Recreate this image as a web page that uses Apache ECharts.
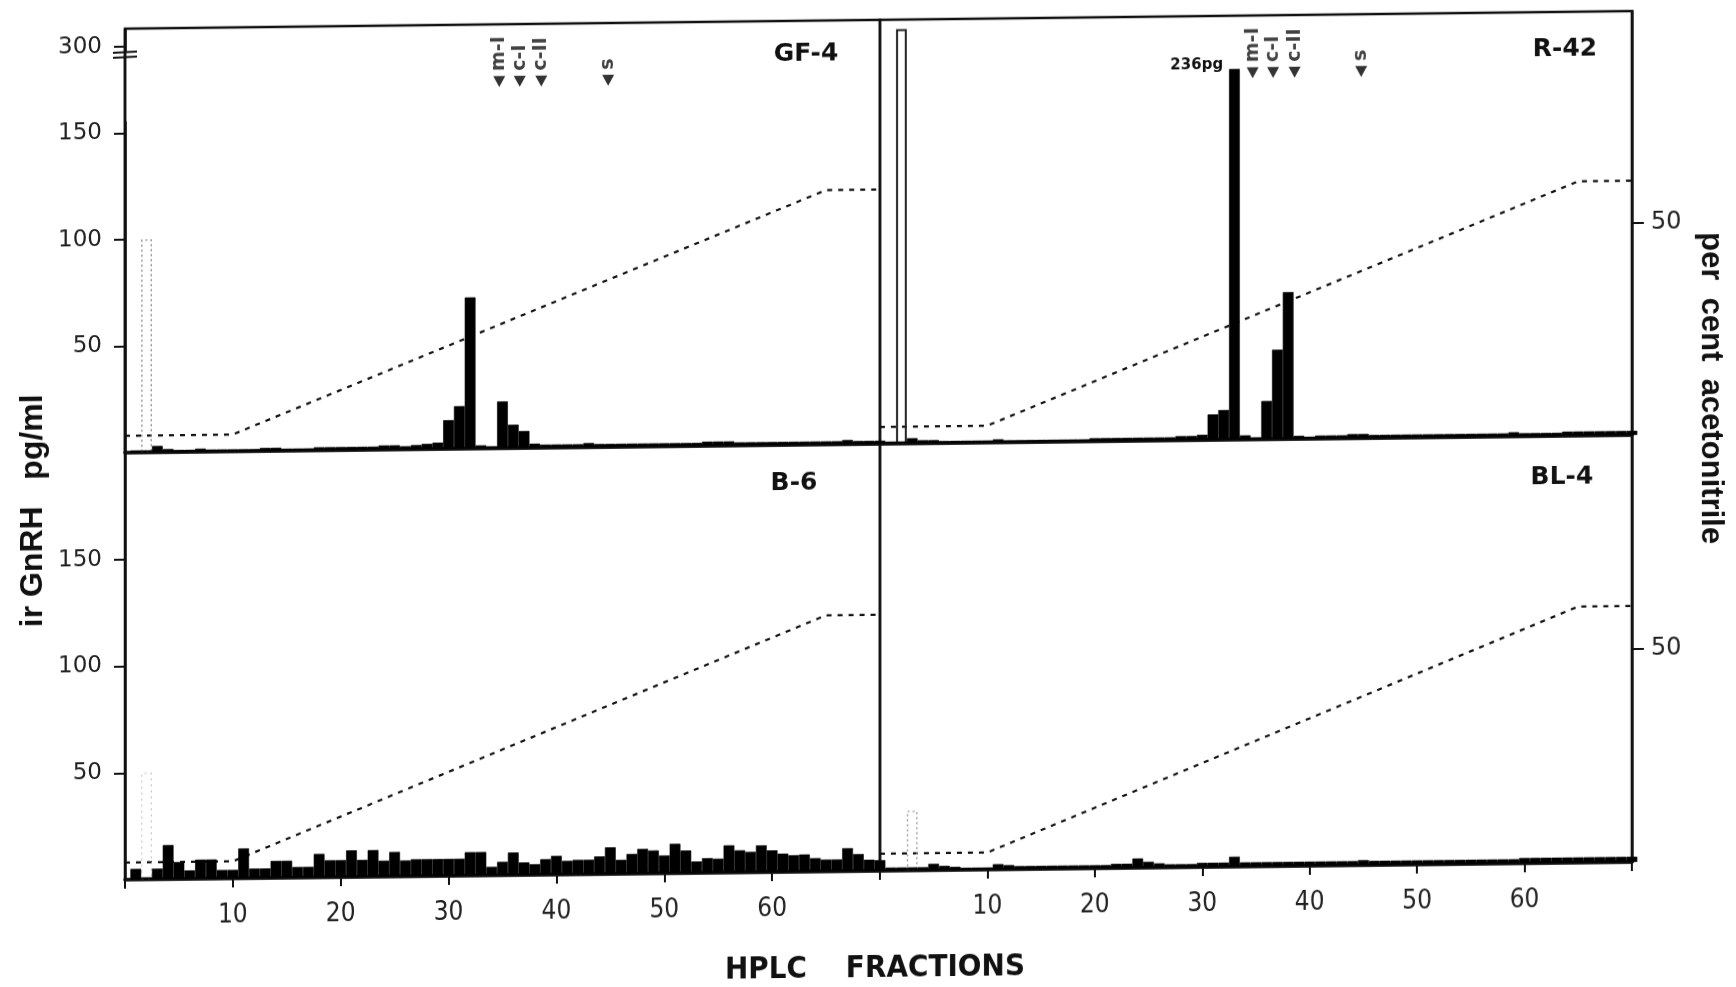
<!DOCTYPE html>
<html>
<head>
<meta charset="utf-8">
<title>ir GnRH in HPLC fractions</title>
<script src="https://cdn.jsdelivr.net/npm/echarts@6/dist/echarts.min.js"></script>
<style>
  html, body { margin: 0; padding: 0; background: #fff; overflow: hidden; }
  /* the whole figure runs slightly uphill to the right */
  #chart { width: 1736px; height: 987px; transform: skewY(-0.67deg); transform-origin: 868px 493px; }
</style>
</head>
<body>
<div id="chart"></div>
<script>
// HPLC fraction numbers (x positions of the histogram bars)
const fractions = Array.from({ length: 70 }, (_, i) => i + 1);

// ir GnRH (pg/ml) per fraction
const gf4 = [1, 1, 3, 1.5, 1, 1, 1.5, 1, 1, 1,
  1, 1, 1.5, 1.5, 1, 1, 1, 1.5, 1.5, 1.5,
  1.5, 1.5, 1.5, 2, 2, 1.5, 2, 2.5, 3, 13.5,
  20, 71, 1.5, 1, 22, 11, 8, 2, 1.5, 1.5,
  1.5, 1.5, 2, 1.5, 1.5, 1.5, 1.5, 1.5, 1.5, 1.5,
  1.5, 1.5, 1.5, 2, 2, 2, 1.5, 1.5, 1.5, 1.5,
  1.5, 1.5, 1.5, 1.5, 1.5, 1.5, 2, 1.5, 1.5, 1.5];

const r42 = [1, 1, 2.5, 1.5, 1.5, 1, 1, 1, 1, 1,
  1.5, 1, 1, 1, 1, 1, 1, 1, 1, 1.5,
  1.5, 1.5, 1.5, 1.5, 1.5, 1.5, 1.5, 2, 2, 2.5,
  12, 14, 236, 2, 1, 18, 42, 69, 1.5, 1,
  1.5, 1.5, 1.5, 2, 2, 1.5, 1.5, 1.5, 1.5, 1.5,
  1.5, 1.5, 1.5, 1.5, 1.5, 1.5, 1.5, 1.5, 2, 1.5,
  1.5, 1.5, 1.5, 2, 2, 2, 2, 2, 2, 2];

const b6 = [5, 1, 5, 16, 8, 4, 9, 9, 4, 4,
  14, 4.5, 4.5, 8, 8, 5, 5, 11, 8, 8,
  12.5, 8, 12.5, 7.5, 11.5, 7.5, 8, 8, 8, 8,
  8, 11, 11, 4, 6.3, 10.6, 5.9, 5, 7.3, 8.8,
  6.4, 6.8, 6.8, 8.3, 12.5, 6.6, 9.3, 11.6, 10.8, 8.4,
  13.8, 10.6, 5.4, 6.9, 6.6, 12.8, 10.4, 9.6, 12.6, 10.2,
  8.6, 7.8, 8.1, 6.3, 5.6, 5.6, 10.8, 8, 5.3, 5];

const bl4 = [1.5, 1.5, 1.5, 1.5, 3, 2, 1.5, 1, 1, 1,
  2.5, 2, 1.5, 1.5, 1.5, 1.5, 1.5, 1.5, 1.5, 1.5,
  1.5, 2, 2, 4.4, 2.8, 2, 1.5, 1.5, 1.5, 2,
  2, 2, 4.7, 2, 2, 2, 2, 2, 2, 2,
  2, 2, 2, 2, 2.4, 2, 2, 2, 2, 2,
  2, 2, 2, 2, 2, 2, 2, 2, 2, 2.5,
  2.5, 2.5, 2.5, 2.5, 2.5, 2.5, 2.5, 2.5, 2.5, 2.5];

// off-scale void-volume fraction drawn as an open bar (GF-4, R-42, B-6, BL-4)
const openFractions = [2, 2, 2, 3];
const openValues = [100, 304, 50, 28];

// acetonitrile gradient (per cent) against fraction number
const gradientFractions = [0, 10, 65, 70];
const gradientPercent = [4, 4, 60, 60];

// elution positions of the reference peptides
const markerFractions = [34.7, 36.6, 38.6, 44.8];
const markerNames = ['m-I', 'c-I', 'c-II', 's'];

// tick labels
const pgTicksTop = [50, 100, 150, 300];
const pgTicksBottom = [50, 100, 150];
const fractionTicks = [10, 20, 30, 40, 50, 60];
const percentTicks = [50];

const panelNames = ['GF-4', 'R-42', 'B-6', 'BL-4'];
const panelValues = [gf4, r42, b6, bl4];

const INK = '#111';
const tickFont = 'DejaVu Sans, Liberation Sans, sans-serif';
const narrowFont = 'DejaVu Sans Condensed, Liberation Sans Narrow, DejaVu Sans, sans-serif';
const boldFont = 'Liberation Sans, Arial, sans-serif';

const chart = echarts.init(document.getElementById('chart'), null, { renderer: 'canvas' });

const grids = [
  { left: 125, top: 20, width: 755, height: 424 },
  { left: 880, top: 20, width: 752, height: 424 },
  { left: 125, top: 444, width: 755, height: 427 },
  { left: 880, top: 444, width: 752, height: 427 }
].map(g => Object.assign(g, { show: true, borderColor: INK, borderWidth: 2.5, backgroundColor: 'transparent' }));

const xAxes = grids.map((g, i) => ({
  type: 'value', gridIndex: i, min: 0, max: 70, interval: 10,
  axisLine: { show: true, onZero: false, lineStyle: { color: INK, width: 3.5 } },
  axisTick: { show: i >= 2, length: 9, lineStyle: { color: INK, width: 2 } },
  axisLabel: {
    show: i >= 2, margin: 24, fontSize: 26, color: '#222', fontFamily: narrowFont,
    formatter: v => (fractionTicks.indexOf(v) >= 0 ? String(v) : '')
  },
  splitLine: { show: false }
}));

// the upper panels jump from 155 straight to 298 pg/ml
const pgBreak = [{ start: 155, end: 298, gap: 33.5 }];

const yAxes = [];
// pg/ml axes
[0, 1, 2, 3].forEach(i => {
  const top = i < 2;
  const ax = {
    type: 'value', gridIndex: i, position: 'left',
    min: 0, max: top ? 308.5 : 200,
    show: i % 2 === 0,
    axisLine: { show: true, lineStyle: { color: INK, width: 2.5 } },
    axisTick: { show: true, length: 11, lineStyle: { color: INK, width: 2 },
      customValues: top ? pgTicksTop : pgTicksBottom },
    axisLabel: { show: true, margin: 23, fontSize: 23, color: '#222', fontFamily: tickFont,
      verticalAlign: 'middle', padding: [0, 0, 13, 0],
      customValues: top ? pgTicksTop : pgTicksBottom },
    splitLine: { show: false }
  };
  if (top) {
    ax.breaks = pgBreak;
    ax.breakArea = { show: false };
  }
  yAxes.push(ax);
});
// per cent acetonitrile axes
[0, 1, 2, 3].forEach(i => {
  yAxes.push({
    type: 'value', gridIndex: i, position: 'right', min: 0, max: 100,
    show: i % 2 === 1,
    axisLine: { show: true, lineStyle: { color: INK, width: 2.5 } },
    axisTick: { show: true, length: 12, lineStyle: { color: INK, width: 2 }, customValues: percentTicks },
    axisLabel: { show: true, margin: 19, fontSize: 24, color: '#222', fontFamily: tickFont,
      verticalAlign: 'middle', padding: [0, 0, 13, 0], customValues: percentTicks },
    splitLine: { show: false }
  });
});
// marker placement axes for the two upper panels
[0, 1].forEach(i => {
  yAxes.push({ type: 'value', gridIndex: i, min: 0, max: 100, show: false });
});

const openStyles = [
  { borderColor: '#8a8a8a', borderWidth: 1.4, borderType: [2, 3] },
  { borderColor: '#222', borderWidth: 2, borderType: 'solid' },
  { borderColor: '#c8c8c8', borderWidth: 1.2, borderType: [2, 4] },
  { borderColor: '#9a9a9a', borderWidth: 1.4, borderType: [2, 3] }
];

const series = [];
panelValues.forEach((vals, i) => {
  // acetonitrile gradient
  series.push({
    type: 'line', xAxisIndex: i, yAxisIndex: 4 + i, symbol: 'none', z: 1,
    data: gradientFractions.map((f, k) => [f, gradientPercent[k]]),
    lineStyle: { color: INK, width: 2.2, type: [5, 6] },
    silent: true
  });
  // ir GnRH per fraction
  series.push({
    type: 'bar', xAxisIndex: i, yAxisIndex: i, barWidth: '100%', barGap: '-100%', z: 3,
    data: fractions.map((f, k) => {
      const item = { value: [f, vals[k]] };
      if (vals[k] > 200) {
        item.label = {
          show: true, formatter: p => p.value[1] + 'pg', position: [-6, -4],
          align: 'right', verticalAlign: 'middle', fontSize: 15, fontWeight: 'bold',
          color: INK, fontFamily: tickFont
        };
      }
      return item;
    }),
    itemStyle: { color: '#000', borderColor: '#000', borderWidth: 0.6 }
  });
  // open void-volume bar
  series.push({
    type: 'bar', xAxisIndex: i, yAxisIndex: i, barWidth: '100%', barGap: '-100%', z: 2,
    data: [[openFractions[i], openValues[i]]],
    itemStyle: Object.assign({ color: 'rgba(255,255,255,0)' }, openStyles[i])
  });
});
// reference peptide markers
[0, 1].forEach(i => {
  series.push({
    type: 'scatter', xAxisIndex: i, yAxisIndex: 8 + i, symbol: 'triangle', symbolRotate: 180,
    symbolSize: [12, 11], itemStyle: { color: '#000' }, z: 4,
    data: markerFractions.map((f, k) => ({ value: [f, 86.5], name: markerNames[k] })),
    label: {
      show: true, formatter: p => p.name, position: 'top', rotate: 90, distance: 5,
      align: 'left', verticalAlign: 'middle', fontSize: 19, fontWeight: 'bold',
      color: INK, fontFamily: tickFont
    }
  });
});

chart.setOption({
  animation: false,
  backgroundColor: '#fff',
  grid: grids,
  xAxis: xAxes,
  yAxis: yAxes,
  series
});

const text = (id, str, x, y, size, rot, family) => ({
  type: 'text', id, x, y, rotation: rot || 0,
  style: { text: str, fill: INK, font: 'bold ' + size + 'px ' + (family || boldFont),
    textAlign: 'center', textVerticalAlign: 'middle' }
});

// frame edge and axis-break marks on the upper pg/ml axis
const axisX = chart.convertToPixel({ xAxisIndex: 0 }, 0);
const y300 = chart.convertToPixel({ yAxisIndex: 0 }, 300);
const yTop = chart.convertToPixel({ yAxisIndex: 0 }, 308.5);
const yZero = chart.convertToPixel({ yAxisIndex: 0 }, 0);

chart.setOption({
  graphic: [
    text('gf4', panelNames[0], 806, 53, 25, 0, tickFont),
    text('r42', panelNames[1], 1565, 57, 25, 0, tickFont),
    text('b6', panelNames[2], 794, 482, 25, 0, tickFont),
    text('bl4', panelNames[3], 1562, 485, 25, 0, tickFont),
    text('yname', 'ir GnRH   pg/ml', 33, 501, 32, Math.PI / 2),
    text('rname', 'per  cent  acetonitrile', 1711, 398, 31, -Math.PI / 2),
    text('xname', 'HPLC    FRACTIONS', 875, 969, 31, 0, narrowFont),
    { type: 'line', id: 'edge', z: 10, shape: { x1: axisX, y1: yTop, x2: axisX, y2: yZero },
      style: { stroke: INK, lineWidth: 2.5 } },
    { type: 'line', id: 'brk1', z: 10, shape: { x1: axisX - 12, y1: y300 + 6, x2: axisX + 12, y2: y300 + 5 },
      style: { stroke: INK, lineWidth: 2 } },
    { type: 'line', id: 'brk2', z: 10, shape: { x1: axisX - 12, y1: y300 + 11, x2: axisX + 12, y2: y300 + 10 },
      style: { stroke: INK, lineWidth: 2 } }
  ]
});
</script>
</body>
</html>
